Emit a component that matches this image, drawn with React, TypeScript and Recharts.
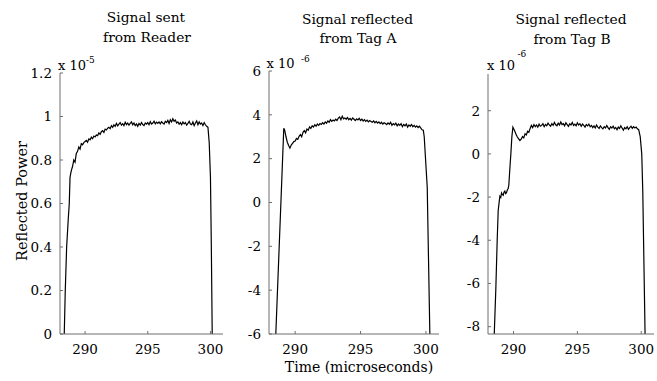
import { LineChart, Line, XAxis, YAxis } from "recharts";

const FONT = "DejaVu Serif";
const AXIS = "#6e6e6e";

const xTicks = [290, 295, 300];
const xDomain: [number, number] = [288, 301];

// time grid of the flat part, microseconds
const plateauTime = [
  290.0, 290.1, 290.2, 290.3, 290.4, 290.5, 290.6, 290.7, 290.8, 290.9,
  291.0, 291.1, 291.2, 291.3, 291.4, 291.5, 291.6, 291.7, 291.8, 291.9,
  292.0, 292.1, 292.2, 292.3, 292.4, 292.5, 292.6, 292.7, 292.8, 292.9,
  293.0, 293.1, 293.2, 293.3, 293.4, 293.5, 293.6, 293.7, 293.8, 293.9,
  294.0, 294.1, 294.2, 294.3, 294.4, 294.5, 294.6, 294.7, 294.8, 294.9,
  295.0, 295.1, 295.2, 295.3, 295.4, 295.5, 295.6, 295.7, 295.8, 295.9,
  296.0, 296.1, 296.2, 296.3, 296.4, 296.5, 296.6, 296.7, 296.8, 296.9,
  297.0, 297.1, 297.2, 297.3, 297.4, 297.5, 297.6, 297.7, 297.8, 297.9,
  298.0, 298.1, 298.2, 298.3, 298.4, 298.5, 298.6, 298.7, 298.8, 298.9,
  299.0, 299.1, 299.2, 299.3, 299.4, 299.5, 299.6, 299.7,
];

// Reader (x 1e-5)
const readerRiseTime = [288.3, 288.34, 288.42, 288.53, 288.66, 288.74, 288.8, 288.86, 288.92, 289.0, 289.1, 289.2, 289.3, 289.4, 289.5, 289.6, 289.7, 289.8, 289.9];
const readerRise = [-0.05, 0, 0.2, 0.4, 0.53, 0.6, 0.72, 0.74, 0.755, 0.77, 0.8, 0.79, 0.83, 0.84, 0.86, 0.85, 0.875, 0.87, 0.88];
const readerFlat = [
  0.885, 0.89, 0.882, 0.897, 0.893, 0.905, 0.898, 0.91, 0.906, 0.915,
  0.912, 0.925, 0.918, 0.93, 0.935, 0.927, 0.942, 0.938, 0.946, 0.95,
  0.944, 0.958, 0.95, 0.962, 0.955, 0.968, 0.957, 0.965, 0.972, 0.96,
  0.967, 0.958, 0.974, 0.963, 0.97, 0.96, 0.968, 0.975, 0.962, 0.97,
  0.958, 0.966, 0.955, 0.968, 0.96, 0.972, 0.963, 0.958, 0.97, 0.965,
  0.972, 0.962, 0.976, 0.965, 0.97, 0.978, 0.966, 0.974, 0.968, 0.975,
  0.966, 0.976, 0.97, 0.965, 0.978, 0.972, 0.982, 0.968, 0.985, 0.975,
  0.99, 0.978, 0.984, 0.97, 0.975, 0.965, 0.972, 0.962, 0.975, 0.966,
  0.972, 0.96, 0.968, 0.978, 0.965, 0.962, 0.975, 0.958, 0.97, 0.98,
  0.962, 0.975, 0.965, 0.97, 0.958, 0.972, 0.962, 0.955,
];
const readerFallTime = [299.8, 299.9, 300.0, 300.07, 300.14, 300.2];
const readerFall = [0.95, 0.88, 0.72, 0.4, 0, -0.05];

// Tag A (x 1e-6)
const tagARiseTime = [288.45, 288.52, 288.95, 289.13, 289.2, 289.3, 289.4, 289.5, 289.6, 289.7, 289.8, 289.9];
const tagARise = [-7, -6, 0.6, 3.39, 3.3, 3.0, 2.75, 2.6, 2.48, 2.62, 2.7, 2.78];
const tagAFlat = [
  2.8, 2.92, 2.88, 3.02, 3.1, 3.0, 3.2, 3.28, 3.18, 3.35,
  3.3, 3.45, 3.38, 3.5, 3.44, 3.55, 3.48, 3.58, 3.52, 3.6,
  3.56, 3.64, 3.58, 3.68, 3.62, 3.72, 3.66, 3.78, 3.7, 3.76,
  3.72, 3.8, 3.74, 3.85, 3.9, 3.78, 3.94, 3.82, 3.86, 3.8,
  3.88, 3.78, 3.84, 3.76, 3.86, 3.8, 3.74, 3.82, 3.77, 3.84,
  3.74, 3.8, 3.72, 3.78, 3.7, 3.76, 3.68, 3.74, 3.7, 3.66,
  3.72, 3.64, 3.7, 3.62, 3.68, 3.6, 3.66, 3.58, 3.64, 3.6,
  3.55, 3.63, 3.57, 3.66, 3.52, 3.6, 3.54, 3.62, 3.5, 3.58,
  3.52, 3.6, 3.46, 3.56, 3.5, 3.58, 3.44, 3.54, 3.48, 3.56,
  3.46, 3.52, 3.44, 3.5, 3.42, 3.48, 3.4, 3.32,
];
const tagAFallTime = [299.8, 299.87, 300.1, 300.3, 300.35];
const tagAFall = [3.3, 3.0, 0.7, -6, -7];

// Tag B (x 1e-6)
const tagBRiseTime = [288.45, 288.49, 288.61, 288.72, 288.8, 288.88, 288.93, 289.0, 289.06, 289.12, 289.19, 289.25, 289.32, 289.38, 289.45, 289.52, 289.58, 289.63, 289.71, 289.79, 289.87, 289.95];
const tagBRise = [-9, -8.34, -6.3, -4.0, -2.61, -2.2, -1.96, -2.02, -1.81, -1.88, -1.92, -1.78, -1.72, -1.84, -1.8, -1.66, -1.6, -1.45, -0.7, 0.0, 0.8, 1.24];
const tagBFlat = [
  1.18, 1.05, 0.9, 0.78, 0.7, 0.62, 0.68, 0.8, 0.74, 0.93,
  0.88, 1.05, 1.0, 1.18, 1.32, 1.22, 1.36, 1.26, 1.34, 1.24,
  1.38, 1.28, 1.32, 1.4, 1.26, 1.36, 1.3, 1.42, 1.34, 1.28,
  1.4, 1.32, 1.46, 1.35, 1.3, 1.42, 1.34, 1.48, 1.36, 1.4,
  1.3, 1.44, 1.36, 1.28, 1.4, 1.34, 1.46, 1.32, 1.38, 1.3,
  1.44, 1.34, 1.4, 1.28, 1.38, 1.32, 1.24, 1.36, 1.3, 1.38,
  1.26, 1.32, 1.22, 1.3, 1.2, 1.34, 1.24, 1.18, 1.3, 1.22,
  1.16, 1.26, 1.2, 1.32, 1.22, 1.14, 1.26, 1.2, 1.28, 1.16,
  1.22, 1.12, 1.24, 1.18, 1.3, 1.2, 1.1, 1.22, 1.16, 1.26,
  1.14, 1.22, 1.28, 1.18, 1.26, 1.2, 1.24, 1.16,
];
const tagBFallTime = [299.8, 299.92, 300.04, 300.12, 300.3, 300.33];
const tagBFall = [1.12, 0.8, 0.0, -1.7, -8.34, -9];

const readerTicks = [0, 0.2, 0.4, 0.6, 0.8, 1, 1.2];
const tagATicks = [-6, -4, -2, 0, 2, 4, 6];
const tagBTicks = [-8, -6, -4, -2, 0, 2];

type Pt = { t: number; v: number };

function build(rt: number[], rv: number[], fv: number[], ft: number[], fvv: number[]): Pt[] {
  return [
    ...rt.map((t, i) => ({ t, v: rv[i] })),
    ...plateauTime.map((t, i) => ({ t, v: fv[i] })),
    ...ft.map((t, i) => ({ t, v: fvv[i] })),
  ];
}

const readerData = build(readerRiseTime, readerRise, readerFlat, readerFallTime, readerFall);
const tagAData = build(tagARiseTime, tagARise, tagAFlat, tagAFallTime, tagAFall);
const tagBData = build(tagBRiseTime, tagBRise, tagBFlat, tagBFallTime, tagBFall);

interface PanelProps {
  data: Pt[];
  left: number;
  top: number;
  w: number;
  h: number;
  yDomain: [number, number];
  yTicks: number[];
}

const Y_W = 50;
const M_TOP = 12;
const tickStyle = { fill: "#000", fontSize: 13.5, fontFamily: FONT };

function Panel({ data, left, top, w, h, yDomain, yTicks }: PanelProps) {
  return (
    <div style={{ position: "absolute", left: left - Y_W, top: top - M_TOP, fontFamily: FONT }}>
      <LineChart width={Y_W + w + 5} height={M_TOP + h + 30} data={data} margin={{ top: M_TOP, right: 5, left: 0, bottom: 0 }}>
        <XAxis xAxisId="b" dataKey="t" type="number" domain={xDomain} ticks={xTicks} interval={0}
          allowDataOverflow tickSize={-3} tickMargin={13} height={30} stroke={AXIS} tick={tickStyle} />
        <XAxis xAxisId="t" orientation="top" dataKey="t" type="number" domain={xDomain} ticks={xTicks}
          allowDataOverflow tick={false} tickSize={-3} height={0} stroke={AXIS} />
        <YAxis yAxisId="l" type="number" domain={yDomain} ticks={yTicks} interval={0}
          allowDataOverflow tickSize={-3} tickMargin={11} width={Y_W} stroke={AXIS} tick={tickStyle} />
        <YAxis yAxisId="r" orientation="right" type="number" domain={yDomain} ticks={yTicks}
          allowDataOverflow tick={false} tickSize={-3} width={0} stroke={AXIS} />
        <Line xAxisId="b" yAxisId="l" type="linear" dataKey="v" stroke="#000" strokeWidth={1.2}
          dot={false} activeDot={false} isAnimationActive={false} />
      </LineChart>
    </div>
  );
}

export default function App() {
  return (
    <div style={{ position: "absolute", left: 0, top: 0, width: 657, height: 381, overflow: "hidden", background: "#fff", fontFamily: FONT }}>
      <Panel data={readerData} left={60} top={73} w={163} h={261} yDomain={[0, 1.2]} yTicks={readerTicks} />
      <Panel data={tagAData} left={269} top={71} w={170} h={263} yDomain={[-6, 6]} yTicks={tagATicks} />
      <Panel data={tagBData} left={488} top={74} w={166} h={260} yDomain={[-8.34, 3.7]} yTicks={tagBTicks} />
      <svg width={657} height={381} style={{ position: "absolute", left: 0, top: 0, pointerEvents: "none", fontFamily: FONT }}
        fill="#000">
        <g fontSize={13.8} textAnchor="middle">
          <text x={146} y={22}>Signal sent</text>
          <text x={147} y={42}>from Reader</text>
          <text x={357.5} y={23.5}>Signal reflected</text>
          <text x={358} y={43}>from Tag A</text>
          <text x={571} y={24}>Signal reflected</text>
          <text x={572} y={43.5}>from Tag B</text>
        </g>
        <g fontSize={13}>
          <text x={58} y={70}>x 10</text>
          <text x={266.5} y={68}>x 10</text>
          <text x={487} y={70}>x 10</text>
        </g>
        <g fontSize={9}>
          <text x={86} y={63}>-5</text>
          <text x={301} y={62}>-6</text>
          <text x={517.5} y={57}>-6</text>
        </g>
        <text x={359} y={372} fontSize={14} textAnchor="middle">Time (microseconds)</text>
        <text x={27} y={201} fontSize={14.5} textAnchor="middle" transform="rotate(-90 27 201)">Reflected Power</text>
      </svg>
    </div>
  );
}
